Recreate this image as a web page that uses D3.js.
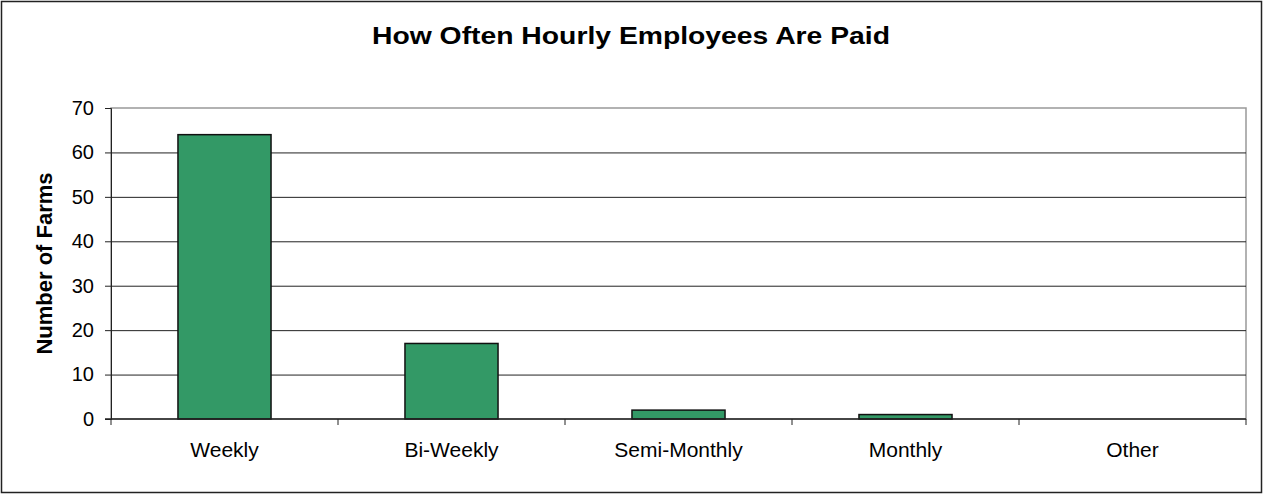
<html>
<head>
<style>
  body { margin: 0; background: #fff; }
  text { font-family: Arial, "Liberation Sans", sans-serif; }
</style>
</head>
<body>
<svg id="chart"></svg>
<script src="https://cdn.jsdelivr.net/npm/d3@7"></script>
<script>
// data
let categories = ["Weekly", "Bi-Weekly", "Semi-Monthly", "Monthly", "Other"];
let farms = [64, 17, 2, 1, 0];
let yTicks = [0, 10, 20, 30, 40, 50, 60, 70];

let width = 1264;
let height = 495;
let margin = {left: 111, right: 18, top: 108, bottom: 76};

let svg = d3.select("#chart")
    .attr("width", width)
    .attr("height", height);

// outer frame
svg.append("rect")
    .attr("x", 1.5).attr("y", 1.5)
    .attr("width", width - 4).attr("height", height - 4)
    .attr("fill", "white")
    .attr("stroke", "#222")
    .attr("stroke-width", 1.5);

let x = d3.scaleBand()
    .domain(categories)
    .range([margin.left, width - margin.right])
    .paddingInner(0.59)
    .paddingOuter(0.295);

let xBound = d3.scaleBand()
    .domain(categories)
    .range([margin.left, width - margin.right]);

let y = d3.scaleLinear()
    .domain([0, 70])
    .range([height - margin.bottom, margin.top]);

// plot area border (gray)
svg.append("rect")
    .attr("x", margin.left).attr("y", margin.top)
    .attr("width", width - margin.left - margin.right)
    .attr("height", y(0) - margin.top)
    .attr("fill", "none")
    .attr("stroke", "#999")
    .attr("stroke-width", 1.5);

// gridlines
svg.append("g")
    .selectAll("line")
    .data(yTicks.filter(d => d > 0 && d < 70))
    .enter()
    .append("line")
    .attr("x1", margin.left)
    .attr("x2", width - margin.right)
    .attr("y1", d => y(d) + 0.5)
    .attr("y2", d => y(d) + 0.5)
    .attr("stroke", "#222")
    .attr("stroke-width", 1);

// bars
svg.append("g")
    .selectAll("rect")
    .data(farms)
    .enter()
    .append("rect")
    .attr("x", (d, i) => x(categories[i]))
    .attr("y", d => y(d))
    .attr("width", x.bandwidth())
    .attr("height", d => y(0) - y(d))
    .attr("fill", "#339966")
    .attr("stroke", "#111")
    .attr("stroke-width", d => d > 0 ? 1.5 : 0);

// y axis
let yAxis = d3.axisLeft(y)
    .tickValues(yTicks)
    .tickSize(6)
    .tickPadding(11);

let yG = svg.append("g")
    .attr("transform", `translate(${margin.left},0)`)
    .call(yAxis);
yG.select(".domain").attr("stroke", "#222");
yG.selectAll(".tick line").attr("stroke", "#222");
yG.selectAll("text")
    .attr("font-size", 20)
    .attr("font-family", "Arial, 'Liberation Sans', sans-serif")
    .attr("fill", "#000");

// x axis baseline and category boundary ticks
svg.append("line")
    .attr("x1", margin.left - 6)
    .attr("x2", width - margin.right)
    .attr("y1", y(0))
    .attr("y2", y(0))
    .attr("stroke", "#222")
    .attr("stroke-width", 1.5);

svg.append("g")
    .selectAll("line")
    .data(categories.concat(["end"]))
    .enter()
    .append("line")
    .attr("x1", (d, i) => margin.left + i * xBound.bandwidth())
    .attr("x2", (d, i) => margin.left + i * xBound.bandwidth())
    .attr("y1", y(0))
    .attr("y2", y(0) + 6)
    .attr("stroke", "#222");

svg.append("g")
    .selectAll("text")
    .data(categories)
    .enter()
    .append("text")
    .attr("x", d => xBound(d) + xBound.bandwidth() / 2)
    .attr("y", y(0) + 38)
    .attr("text-anchor", "middle")
    .attr("font-size", 21)
    .text(d => d);

// axis title
svg.append("text")
    .attr("transform", `translate(52,${(y(0) + margin.top) / 2}) rotate(-90)`)
    .attr("text-anchor", "middle")
    .attr("font-size", 22)
    .attr("font-weight", "bold")
    .text("Number of Farms");

// chart title
svg.append("text")
    .attr("x", 631)
    .attr("y", 44)
    .attr("text-anchor", "middle")
    .attr("font-size", 24)
    .attr("font-weight", "bold")
    .attr("textLength", 518)
    .attr("lengthAdjust", "spacingAndGlyphs")
    .text("How Often Hourly Employees Are Paid");
</script>
</body>
</html>
